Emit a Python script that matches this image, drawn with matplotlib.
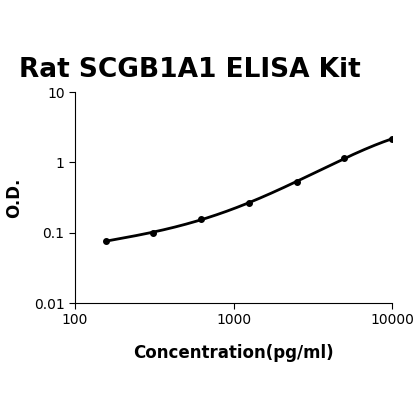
import numpy as np
import matplotlib.pyplot as plt

# standard curve points
concentration = [156.25, 312.5, 625, 1250, 2500, 5000, 10000]
od = [0.076, 0.100, 0.157, 0.265, 0.525, 1.15, 2.15]

# smooth curve through the points (polynomial in log-log space)
lx = np.log10(concentration)
ly = np.log10(od)
coef = np.polyfit(lx, ly, 4)
xs = np.linspace(lx[0], lx[-1], 200)
ys = np.polyval(coef, xs)

fig = plt.figure(figsize=(4.2, 4.19), dpi=100)
ax = fig.add_axes([75 / 420, 1 - 303 / 419, 317 / 420, 211 / 419])

ax.plot(10 ** xs, 10 ** ys, color="black", linewidth=2)
ax.plot(concentration, od, "o", color="black", markersize=4)

ax.set_xscale("log")
ax.set_yscale("log")
ax.set_xlim(100, 10000)
ax.set_ylim(0.01, 10)
ax.set_xticks([100, 1000, 10000])
ax.set_xticklabels(["100", "1000", "10000"])
ax.set_yticks([0.01, 0.1, 1, 10])
ax.set_yticklabels(["0.01", "0.1", "1", "10"])
ax.minorticks_off()
ax.tick_params(labelsize=10, length=4)
for side in ["top", "right"]:
    ax.spines[side].set_visible(False)

ax.set_xlabel("Concentration(pg/ml)", fontsize=12, fontweight="bold", labelpad=12)
ax.set_ylabel("O.D.", fontsize=12, fontweight="bold", labelpad=8)
fig.text(190 / 420, 1 - 70 / 419, "Rat SCGB1A1 ELISA Kit", ha="center",
         va="center", fontsize=19, fontweight="bold")

fig.savefig("out.png", dpi=100)
